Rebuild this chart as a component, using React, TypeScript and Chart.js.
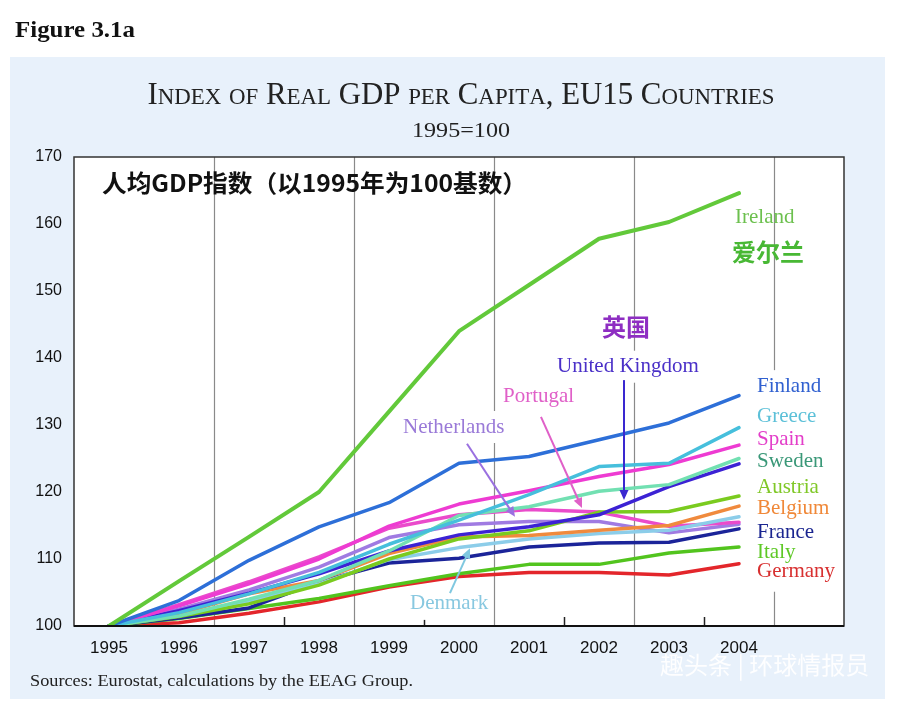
import React, { useEffect, useRef } from 'react';
import { Chart, registerables } from 'chart.js';

Chart.register(...registerables);

// ---------- data ----------
const years = ['1995', '1996', '1997', '1998', '1999', '2000', '2001', '2002', '2003', '2004'];
const axisCategories = [...years, ''];
const yMin = 100;
const yMax = 170;
const yStep = 10;

const ireland = [100, 106.7, 113.3, 120.0, 132.0, 144.0, 150.9, 157.8, 160.3, 164.6];
const finland = [100, 103.8, 109.8, 114.8, 118.4, 124.3, 125.3, 127.8, 130.3, 134.4];
const greece = [100, 102.0, 104.8, 108.0, 112.2, 115.8, 119.6, 123.8, 124.3, 129.6];
const spain = [100, 103.0, 106.3, 110.0, 114.9, 118.2, 120.2, 122.3, 124.1, 127.0];
const sweden = [100, 101.5, 104.0, 106.8, 111.2, 116.5, 117.8, 120.1, 121.1, 125.0];
const unitedKingdom = [100, 102.3, 104.9, 107.8, 111.2, 113.6, 114.8, 116.6, 120.8, 124.2];
const austria = [100, 101.4, 103.3, 106.1, 110.0, 113.0, 114.2, 117.0, 117.1, 119.4];
const belgium = [100, 101.8, 104.8, 106.8, 110.8, 113.3, 113.5, 114.3, 115.0, 117.9];
const denmark = [100, 101.6, 103.6, 106.3, 109.9, 111.7, 113.0, 113.8, 114.3, 116.3];
const portugal = [100, 103.2, 106.6, 110.3, 114.6, 116.6, 117.4, 117.0, 114.9, 115.5];
const netherlands = [100, 102.5, 105.4, 108.8, 113.2, 115.1, 115.6, 115.6, 113.9, 115.2];
const france = [100, 101.2, 102.7, 106.6, 109.4, 110.1, 111.8, 112.4, 112.5, 114.5];
const italy = [100, 101.1, 102.6, 104.1, 106.0, 107.8, 109.2, 109.2, 110.9, 111.8];
const germany = [100, 100.5, 101.9, 103.6, 105.8, 107.4, 108.0, 108.0, 107.6, 109.3];

const seriesNames = ['Germany', 'Italy', 'France', 'Netherlands', 'Portugal', 'Denmark', 'Belgium', 'Austria', 'United Kingdom', 'Sweden', 'Spain', 'Greece', 'Finland', 'Ireland'];
const seriesValues = [germany, italy, france, netherlands, portugal, denmark, belgium, austria, unitedKingdom, sweden, spain, greece, finland, ireland];
const seriesColors = ['#e3262b', '#52c41e', '#1b2499', '#a07be2', '#ea4bcb', '#8ccde9', '#f08a3d', '#7acb1f', '#3c22d4', '#72e0b2', '#ee3bd2', '#46bfdc', '#2d6fd8', '#62c93a'];

// annotation labels
const rightLabels = ['Finland', 'Greece', 'Spain', 'Sweden', 'Austria', 'Belgium', 'France', 'Italy', 'Germany'];
const rightLabelValues = [135.8, 131.2, 127.9, 124.6, 120.6, 117.6, 113.9, 111.0, 108.1];
const rightLabelColors = ['#3060d0', '#5cc0d8', '#e33ec9', '#3a9878', '#80c828', '#f08838', '#1a2590', '#5ec826', '#d83030'];
const rightLabelIndex = 9.257;

const floatLabels: [string, number, number, string, string, boolean][] = [
  ['Ireland', 8.943, 160.9, '#6cc04e', 'serif', false],
  ['爱尔兰', 8.9, 155.8, '#48b834', 'cjk', false],
  ['英国', 7.043, 144.6, '#8e2ec2', 'cjk', false],
  ['United Kingdom', 6.4, 138.7, '#4a30c8', 'serif', true],
  ['Portugal', 5.629, 134.3, '#e060c8', 'serif', true],
  ['Netherlands', 4.2, 129.7, '#9a7ad8', 'serif', true],
  ['Denmark', 4.3, 103.3, '#88c8e0', 'serif', true],
];

// arrows: [fromIndex, fromValue, toIndex, toValue, color]
const arrows: [number, number, number, number, string][] = [
  [7.357, 136.7, 7.357, 118.8, '#3a28d0'],
  [6.171, 131.2, 6.757, 117.6, '#e060c8'],
  [5.114, 127.2, 5.8, 116.3, '#9a70e0'],
  [4.871, 104.9, 5.157, 111.6, '#80c8e0'],
];

const chineseNote = '人均GDP指数（以1995年为100基数）';
const chineseNoteIndex = -0.1;
const chineseNoteValue = 166.1;

const figureLabel = 'Figure 3.1a';
const chartTitle = 'Index of Real GDP per Capita, EU15 Countries';
const chartSubtitle = '1995=100';
const sourceNote = 'Sources: Eurostat, calculations by the EEAG Group.';
const watermark = '趣头条 | 环球情报员';

// ---------- helpers ----------
function drawFitted(ctx: CanvasRenderingContext2D, text: string, x: number, y: number, font: string, width: number, color: string) {
  ctx.save();
  ctx.font = font;
  const w = ctx.measureText(text).width;
  ctx.translate(x, y);
  ctx.scale(width / w, 1);
  ctx.fillStyle = color;
  ctx.textAlign = 'left';
  ctx.textBaseline = 'alphabetic';
  ctx.fillText(text, 0, 0);
  ctx.restore();
}

function drawSmallCaps(ctx: CanvasRenderingContext2D, text: string, cx: number, baseline: number, big: string, small: string, width: number, color: string) {
  const segs = text.split('').map((ch) => {
    const lower = ch !== ch.toUpperCase();
    return { t: ch.toUpperCase(), font: lower ? small : big };
  });
  let total = 0;
  for (const s of segs) {
    ctx.font = s.font;
    total += ctx.measureText(s.t).width;
  }
  ctx.save();
  ctx.translate(cx - width / 2, baseline);
  ctx.scale(width / total, 1);
  ctx.fillStyle = color;
  ctx.textBaseline = 'alphabetic';
  ctx.textAlign = 'left';
  let x = 0;
  for (const s of segs) {
    ctx.font = s.font;
    ctx.fillText(s.t, x, 0);
    x += ctx.measureText(s.t).width;
  }
  ctx.restore();
}

function drawArrow(ctx: CanvasRenderingContext2D, x1: number, y1: number, x2: number, y2: number, color: string) {
  const ang = Math.atan2(y2 - y1, x2 - x1);
  const hl = 10;
  const hw = 4.5;
  ctx.save();
  ctx.strokeStyle = color;
  ctx.fillStyle = color;
  ctx.lineWidth = 2;
  ctx.beginPath();
  ctx.moveTo(x1, y1);
  ctx.lineTo(x2 - Math.cos(ang) * hl * 0.8, y2 - Math.sin(ang) * hl * 0.8);
  ctx.stroke();
  ctx.beginPath();
  ctx.moveTo(x2, y2);
  ctx.lineTo(x2 - hl * Math.cos(ang) + hw * Math.sin(ang), y2 - hl * Math.sin(ang) - hw * Math.cos(ang));
  ctx.lineTo(x2 - hl * Math.cos(ang) - hw * Math.sin(ang), y2 - hl * Math.sin(ang) + hw * Math.cos(ang));
  ctx.closePath();
  ctx.fill();
  ctx.restore();
}

const SERIF = '"Liberation Serif", "Times New Roman", serif';
const SANS = '"Liberation Sans", Arial, sans-serif';
const CJK = '"Noto Sans CJK SC", sans-serif';

const decorPlugin = {
  id: 'decor',
  beforeDraw(chart: any) {
    const { ctx, chartArea: a } = chart;
    ctx.save();
    ctx.fillStyle = '#ffffff';
    ctx.fillRect(0, 0, chart.width, chart.height);
    ctx.fillStyle = '#e8f1fb';
    ctx.fillRect(10, 57, 875, 642);
    ctx.fillStyle = '#ffffff';
    ctx.fillRect(a.left, a.top, a.right - a.left, a.bottom - a.top);
    ctx.restore();

    drawFitted(ctx, figureLabel, 15, 37, `bold 23px ${SERIF}`, 120, '#111');
    drawSmallCaps(ctx, chartTitle, 461, 104, `31px ${SERIF}`, `23px ${SERIF}`, 627, '#222');
    drawFitted(ctx, chartSubtitle, 412, 137, `22px ${SERIF}`, 98, '#222');
    drawFitted(ctx, sourceNote, 30, 686, `17px ${SERIF}`, 383, '#222');
  },
  beforeDatasetsDraw(chart: any) {
    const { ctx, chartArea: a, scales } = chart;
    const xs = scales.x;
    ctx.save();
    for (let b = 1; b < axisCategories.length; b++) {
      const x = Math.round(xs.getPixelForValue(b - 0.5)) + 0.5;
      ctx.beginPath();
      if (b % 2 === 0) {
        ctx.strokeStyle = '#8a8a8a';
        ctx.lineWidth = 1.2;
        ctx.moveTo(x, a.top);
        ctx.lineTo(x, a.bottom);
      } else {
        ctx.strokeStyle = '#222';
        ctx.lineWidth = 1.5;
        ctx.moveTo(x, a.bottom);
        ctx.lineTo(x, a.bottom - 9);
      }
      ctx.stroke();
    }
    ctx.restore();
  },
  afterDatasetsDraw(chart: any) {
    const { ctx, chartArea: a, scales } = chart;
    const xs = scales.x;
    const ys = scales.y;
    ctx.save();
    ctx.strokeStyle = '#333';
    ctx.lineWidth = 1.5;
    ctx.strokeRect(a.left, a.top, a.right - a.left, a.bottom - a.top);
    ctx.strokeStyle = '#111';
    ctx.lineWidth = 2;
    ctx.beginPath();
    ctx.moveTo(a.left, a.bottom);
    ctx.lineTo(a.right, a.bottom);
    ctx.stroke();
    ctx.restore();

    const rx = xs.getPixelForValue(rightLabelIndex);
    const topY = ys.getPixelForValue(rightLabelValues[0]);
    const botY = ys.getPixelForValue(rightLabelValues[rightLabelValues.length - 1]);
    ctx.save();
    ctx.fillStyle = '#ffffff';
    ctx.fillRect(rx - 5, topY - 16, a.right - rx + 3, botY - topY + 36);
    ctx.font = `21px ${SERIF}`;
    ctx.textBaseline = 'middle';
    ctx.textAlign = 'left';
    rightLabels.forEach((t, k) => {
      ctx.fillStyle = rightLabelColors[k];
      ctx.fillText(t, rx, ys.getPixelForValue(rightLabelValues[k]));
    });
    ctx.restore();

    ctx.save();
    floatLabels.forEach(([t, i, v, color, kind, bg]) => {
      const x = xs.getPixelForValue(i);
      const y = ys.getPixelForValue(v);
      ctx.font = kind === 'cjk' ? `bold 24px ${CJK}` : `21px ${SERIF}`;
      const w = ctx.measureText(t).width;
      if (bg) {
        ctx.fillStyle = '#ffffff';
        ctx.fillRect(x - 5, y - 16, w + 10, 32);
      }
      ctx.fillStyle = color;
      ctx.textBaseline = 'middle';
      ctx.textAlign = 'left';
      ctx.fillText(t, x, y);
    });
    ctx.restore();

    arrows.forEach(([i1, v1, i2, v2, color]) => {
      drawArrow(ctx, xs.getPixelForValue(i1), ys.getPixelForValue(v1), xs.getPixelForValue(i2), ys.getPixelForValue(v2), color);
    });

    ctx.save();
    ctx.font = `bold 24px ${CJK}`;
    const nw = ctx.measureText(chineseNote).width;
    ctx.translate(xs.getPixelForValue(chineseNoteIndex), ys.getPixelForValue(chineseNoteValue));
    ctx.scale(425 / nw, 1);
    ctx.fillStyle = '#111';
    ctx.textBaseline = 'middle';
    ctx.textAlign = 'left';
    ctx.fillText(chineseNote, 0, 0);
    ctx.restore();

    ctx.save();
    ctx.font = `24px ${CJK}`;
    ctx.fillStyle = 'rgba(255,255,255,0.92)';
    ctx.textBaseline = 'middle';
    ctx.textAlign = 'left';
    ctx.fillText(watermark, 660, 665);
    ctx.restore();
  },
};

export default function App() {
  const ref = useRef<HTMLCanvasElement>(null);
  useEffect(() => {
    document.body.style.margin = '0';
    const canvas = ref.current;
    if (!canvas) return;
    const chart = new Chart(canvas, {
      type: 'line',
      data: {
        labels: axisCategories,
        datasets: seriesNames.map((name, k) => ({
          label: name,
          data: seriesValues[k],
          borderColor: seriesColors[k],
          backgroundColor: seriesColors[k],
          borderWidth: name === 'Ireland' ? 4 : 3.5,
          pointRadius: 0,
          tension: 0,
          fill: false,
          borderCapStyle: 'round',
          borderJoinStyle: 'round',
          order: seriesNames.length - k,
        })),
      },
      options: {
        responsive: false,
        animation: false,
        devicePixelRatio: 1,
        layout: { padding: { left: 0, top: 157, right: 56, bottom: 0 } },
        plugins: {
          legend: { display: false },
          tooltip: { enabled: false },
          title: { display: false },
        },
        scales: {
          x: {
            type: 'category',
            offset: true,
            grid: { display: false, drawTicks: false },
            border: { display: false },
            ticks: {
              autoSkip: false,
              maxRotation: 0,
              padding: 12,
              color: '#111',
              font: { family: SANS, size: 17 },
            },
            afterFit: (s: any) => {
              s.height = 77;
            },
          },
          y: {
            min: yMin,
            max: yMax,
            grid: { display: false, drawTicks: false },
            border: { display: false },
            ticks: {
              stepSize: yStep,
              padding: 12,
              color: '#111',
              font: { family: SANS, size: 16 },
            },
            afterFit: (s: any) => {
              s.width = 74;
            },
          },
        },
      },
      plugins: [decorPlugin],
    } as any);
    return () => chart.destroy();
  }, []);
  return (
    <div style={{ width: 900, height: 703 }}>
      <canvas ref={ref} width={900} height={703} style={{ display: 'block', width: 900, height: 703 }} />
    </div>
  );
}
